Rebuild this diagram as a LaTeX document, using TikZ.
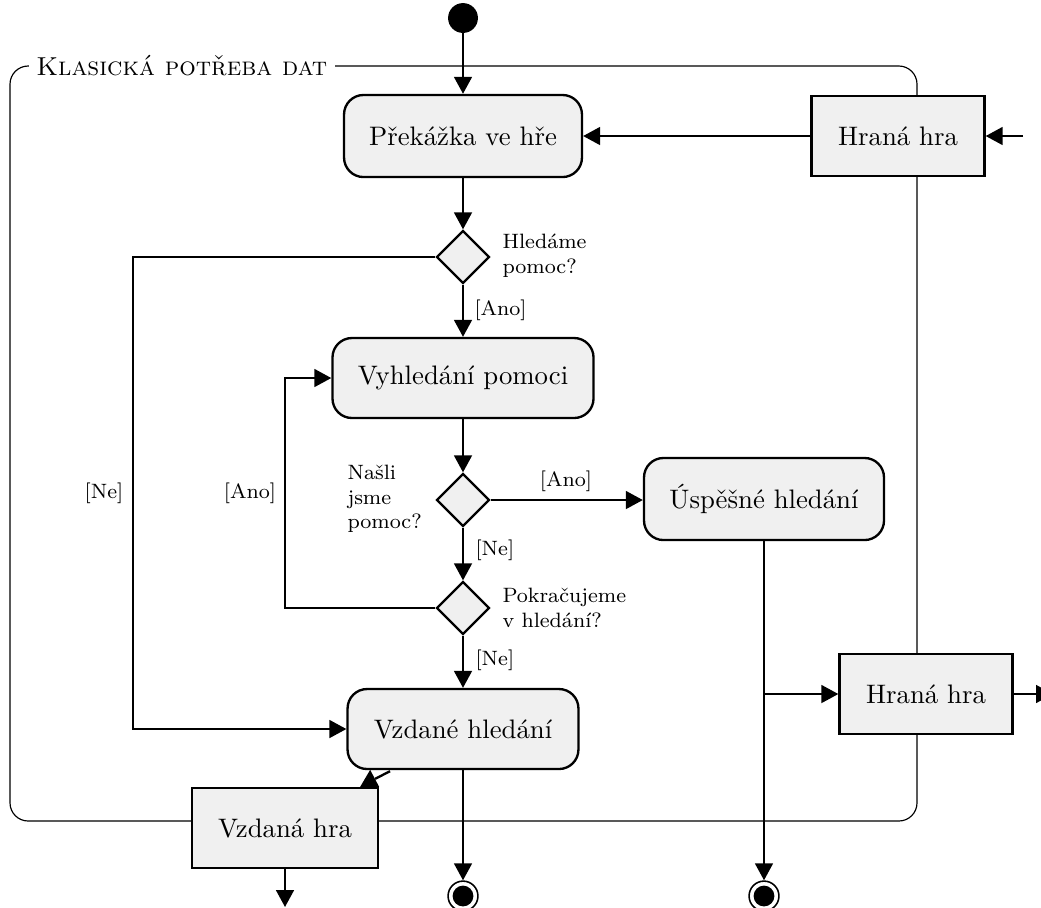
\documentclass[tikz,border=0pt]{standalone}
\usepackage{fontspec}
\usetikzlibrary{arrows.meta,shapes.geometric,calc}
\definecolor{actfill}{HTML}{F0F0F0}
\tikzset{
  act/.style={draw, line width=0.9pt, rounded corners=7.5pt, fill=actfill, font=\fontsize{10.3}{12}\selectfont, inner sep=0pt},
  obj/.style={draw, line width=0.9pt, fill=actfill, font=\fontsize{10.3}{12}\selectfont, inner sep=0pt},
  dec/.style={diamond, draw, line width=0.9pt, fill=actfill, aspect=1, inner sep=0pt, minimum size=20.4pt},
  flow/.style={line width=0.9pt, -{Triangle[length=6.5pt,width=6.8pt]}},
  plainflow/.style={line width=0.9pt},
  lbl/.style={font=\footnotesize, inner sep=0pt, align=left},
  frame/.style={line width=0.45pt, rounded corners=7pt},
  ttl/.style={fill=white, inner xsep=3pt, inner ysep=1pt, font=\normalsize},
  startnode/.style={circle, fill=black, inner sep=0pt, minimum size=11.5pt},
  endnode/.style={circle, draw, line width=0.6pt, fill=white, inner sep=0pt, minimum size=11.5pt,
    path picture={\fill[black] (path picture bounding box.center) circle (4pt);}},
}
\begin{document}
\begin{tikzpicture}[x=0.385pt,y=-0.385pt]
\useasboundingbox (0,0) rectangle (1041,907);
% frame
\draw[frame] (10,66) rectangle (917,821);
\node[ttl, anchor=west] (title) at (28,66) {\textsc{Klasická potřeba dat}};

% nodes
\node[startnode] (start) at (463,18) {};
\node[act, minimum width=91.6pt, minimum height=31.6pt] (prek) at (463,136) {Překážka ve hře};
\node[obj, minimum width=66.6pt, minimum height=30.8pt] (hh1) at (898,136) {Hraná hra};
\node[dec] (d1) at (463,257) {};
\node[act, minimum width=100.5pt, minimum height=30.8pt] (vyh) at (463,378) {Vyhledání pomoci};
\node[dec] (d2) at (463,500) {};
\node[act, minimum width=92.4pt, minimum height=31.6pt] (usp) at (764,499) {Úspěšné hledání};
\node[dec] (d3) at (463,608) {};
\node[act, minimum width=88.9pt, minimum height=30.8pt] (vzd) at (463,729) {Vzdané hledání};
\node[obj, minimum width=66.6pt, minimum height=30.8pt] (hh2) at (926,694) {Hraná hra};
\node[obj, minimum width=71.6pt, minimum height=30.8pt] (vzh) at (285,828) {Vzdaná hra};
\node[endnode] (end1) at (463,896) {};
\node[endnode] (end2) at (764,896) {};

% question labels
\node[lbl, anchor=west] (q1) at (502,256) {Hledáme\\pomoc?};
\node[lbl, anchor=west] (q2) at (347,499) {Našli\\jsme\\pomoc?};
\node[lbl, anchor=west] (q3) at (502,608) {Pokračujeme\\v hledání?};

% guard labels
\node[lbl, anchor=west] (g1) at (474,310) {[Ano]};
\node[lbl] (g2) at (566,481) {[Ano]};
\node[lbl, anchor=west] (g3) at (475,550) {[Ne]};
\node[lbl, anchor=west] (g4) at (475,660) {[Ne]};
\node[lbl] (g5) at (104,493) {[Ne]};
\node[lbl] (g6) at (250,493) {[Ano]};

% free ends
\coordinate (inR) at (1023,136);
\coordinate (outR) at (1053,694);
\coordinate (outB) at (285,907);
\coordinate (br) at (764,694);

% edges
\draw[flow] (start) -- (prek);
\draw[flow] (inR) -- (hh1.east);
\draw[flow] (hh1.west) -- (prek.east);
\draw[flow] (prek) -- (d1);
\draw[flow] (d1.west) -- (133,257) |- (vzd.west);
\draw[flow] (d1) -- (vyh);
\draw[flow] (vyh) -- (d2);
\draw[flow] (d2.east) -- (usp.west |- d2.east);
\draw[flow] (d2) -- (d3);
\draw[flow] (d3.west) -- (285,608) |- (vyh.west);
\draw[flow] (d3) -- (vzd);
\draw[flow] (vzd) -- (end1);
\draw[flow] (usp) -- (end2);
\draw[flow] (br) -- (hh2.west);
\draw[flow] (hh2.east) -- (outR);
\draw[flow] (vzh) -- (outB);
% interrupt to Vzdaná hra
\draw[plainflow] ($(vzd.south)+(-73,1)$) -- ($(vzh.north east)+(-4,-8)$);
\fill ($(vzh.north east)+(-9,-17)$) -- ($(vzh.north east)+(-19,0)$) -- (vzh.north east) -- cycle;
\end{tikzpicture}
\end{document}
